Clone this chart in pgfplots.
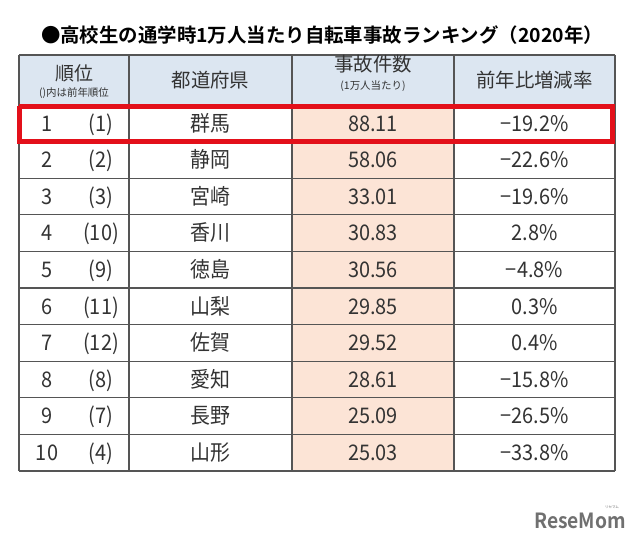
\documentclass[border=0pt]{standalone}
\usepackage{fontspec}
\setmainfont{Noto Sans CJK JP}[BoldFont={Noto Sans CJK JP Bold}]
\usepackage{pgfplots}
\pgfplotsset{compat=1.18}
\usepackage{pgfplotstable}
\definecolor{hdr}{HTML}{DCE6F1}
\definecolor{peach}{HTML}{FCE4D6}
\definecolor{gridc}{HTML}{555555}
\definecolor{txt}{HTML}{333333}
\definecolor{redbox}{HTML}{E3101A}
\definecolor{logo}{HTML}{707070}

\pgfplotstableread[col sep=comma]{
row,rank,prev,pref,val,chg
1,1,(1),群馬,88.11,−19.2\%
2,2,(2),静岡,58.06,−22.6\%
3,3,(3),宮崎,33.01,−19.6\%
4,4,(10),香川,30.83,2.8\%
5,5,(9),徳島,30.56,−4.8\%
6,6,(11),山梨,29.85,0.3\%
7,7,(12),佐賀,29.52,0.4\%
8,8,(8),愛知,28.61,−15.8\%
9,9,(7),長野,25.09,−26.5\%
10,10,(4),山形,25.03,−33.8\%
}\ranking

\pgfplotsset{
  txtplot/.style={only marks, mark=*, mark size=0pt, mark options={draw=none,fill=none},
    nodes near coords, point meta=explicit symbolic,
    every node near coord/.style={anchor=base, inner sep=0pt, text=txt, font=\fontsize{20}{24}\selectfont, yscale=1.08}},
  gl/.style={gridc, line width=1.2bp, mark=none}
}

\begin{document}
\begin{tikzpicture}
\begin{axis}[scale only axis, width=640bp, height=547bp,
  xmin=0, xmax=640, ymin=0, ymax=547, y dir=reverse,
  hide axis, clip=false]
\addplot[fill=white, draw=none] coordinates {(0,0) (640,0) (640,547) (0,547)};
\addplot[fill=hdr, draw=none] coordinates {(19,55) (615,55) (615,105) (19,105)};
\addplot[fill=peach, draw=none] coordinates {(292,105) (454,105) (454,471) (292,471)};
\pgfplotsinvokeforeach{55,105,141.6,178.2,214.8,251.4,288,324.6,361.2,397.8,434.4,471}{
  \addplot[gl] coordinates {(19,#1) (615,#1)};
}
\pgfplotsinvokeforeach{19,129,292,454,615}{
  \addplot[gl] coordinates {(#1,55) (#1,471)};
}
% body text
\addplot[txtplot] table[x expr=47, y expr={105+36.6*(\thisrow{row}-0.5)+7.8}, meta=rank] {\ranking};
\addplot[txtplot] table[x expr=101, y expr={105+36.6*(\thisrow{row}-0.5)+7.8}, meta=prev] {\ranking};
\addplot[txtplot] table[x expr=210.5, y expr={105+36.6*(\thisrow{row}-0.5)+7.8}, meta=pref] {\ranking};
\addplot[txtplot] table[x expr=373, y expr={105+36.6*(\thisrow{row}-0.5)+7.8}, meta=val] {\ranking};
\addplot[txtplot] table[x expr=534.5, y expr={105+36.6*(\thisrow{row}-0.5)+7.8}, meta=chg] {\ranking};
% red highlight box
\addplot[redbox, line width=5bp, mark=none] coordinates {(19,106) (612.5,106) (612.5,141) (19,141) (19,106)};
% header text
\node[anchor=center, text=txt, font=\fontsize{19}{22}\selectfont] at (axis cs:74,73) {順位};
\node[anchor=center, text=txt, font=\fontsize{10.5}{12}\selectfont] at (axis cs:74,93) {()内は前年順位};
\node[anchor=center, text=txt, font=\fontsize{19.5}{22}\selectfont] at (axis cs:210.5,80) {都道府県};
\node[anchor=center, text=txt, font=\fontsize{19.5}{22}\selectfont] at (axis cs:373,64) {事故件数};
\node[anchor=center, text=txt, font=\fontsize{10.5}{12}\selectfont] at (axis cs:373,86) {(1万人当たり)};
\node[anchor=center, text=txt, font=\fontsize{19.5}{22}\selectfont] at (axis cs:534.5,80) {前年比増減率};
% title
\node[anchor=center, text=black, font=\bfseries\fontsize{19.5}{22}\selectfont] at (axis cs:322,35) {●高校生の通学時1万人当たり自転車事故ランキング（2020年）};
% logo
\node[anchor=center, text=logo, font=\bfseries\fontsize{21}{22}\selectfont, xscale=0.92] at (axis cs:580,521) {ReseMom};
\node[anchor=center, text=logo, font=\fontsize{3.5}{4}\selectfont] at (axis cs:612,507) {リセマム};
\end{axis}
\end{tikzpicture}
\end{document}
